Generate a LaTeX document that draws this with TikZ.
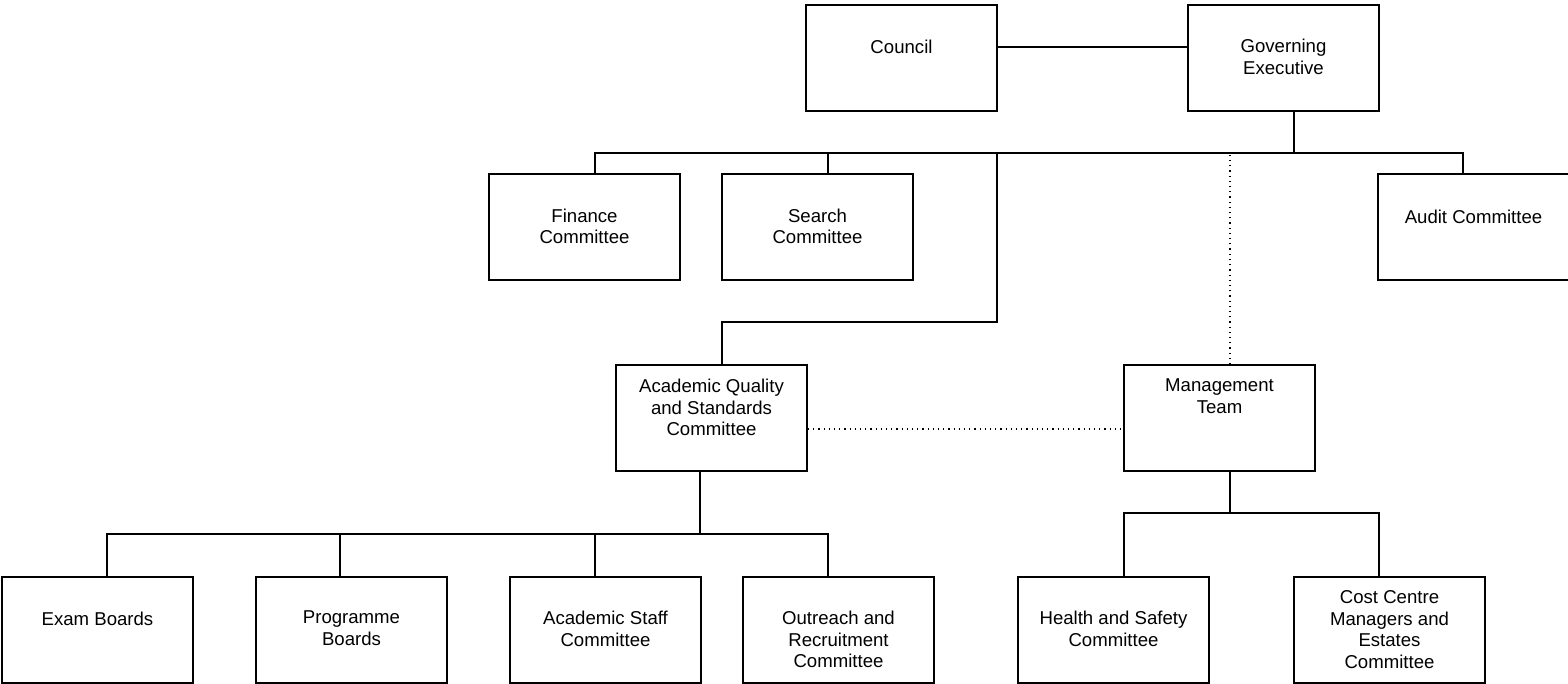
\documentclass[tikz,border=0pt]{standalone}
\usepackage{fontspec}
\setmainfont{Liberation Sans}
\usepackage{tikz}
\usetikzlibrary{calc,positioning}
\tikzset{
    unit/.style={draw,line width=0.9pt,inner sep=0pt,minimum width=95.5pt,minimum height=53pt},
    lbl/.style={inner sep=0pt,align=center,font=\fontsize{9.3}{10.85}\selectfont,
        execute at begin node=\strut},
    link/.style={line width=0.9pt},
    dotlink/.style={line width=0.6pt,dotted}
}

\begin{document}
\begin{tikzpicture}[x=0.5pt,y=-0.5pt]
                \useasboundingbox (0,0) rectangle (1568,684);
                \begin{scope}
                \clip (0,0) rectangle (1568,684);
                \node[unit] (council) at (901.5,58) {};
                \node[unit] (gov) at (1283.5,58) {};
                \node[unit] (fin) at (584.5,227) {};
                \node[unit] (search) at (817.5,227) {};
                \node[unit] (audit) at (1473.5,227) {};
                \node[unit] (aqsc) at (711.5,418) {};
                \node[unit] (mgmt) at (1219.5,418) {};
                \node[unit] (exam) at (97.5,630) {};
                \node[unit] (prog) at (351.5,630) {};
                \node[unit] (staff) at (605.5,630) {};
                \node[unit] (outreach) at (838.5,630) {};
                \node[unit] (hs) at (1113.5,630) {};
                \node[unit] (cost) at (1389.5,630) {};
                \end{scope}
                \node[lbl,below=17pt of council.north] (council-t) {Council};
                \node[lbl,below=17.5pt of gov.north] (gov-t) {Governing\\Executive};
                \node[lbl,below=17.6pt of fin.north] (fin-t) {Finance\\Committee};
                \node[lbl,below=17.6pt of search.north] (search-t) {Search\\Committee};
                \node[lbl,below=17.2pt of audit.north] (audit-t) {Audit Committee};
                \node[lbl,below=7.2pt of aqsc.north] (aqsc-t) {Academic Quality\\and Standards\\Committee};
                \node[lbl,below=7.2pt of mgmt.north] (mgmt-t) {Management\\Team};
                \node[lbl,below=16.8pt of exam.north] (exam-t) {Exam Boards};
                \node[lbl,below=17.2pt of prog.north] (prog-t) {Programme\\Boards};
                \node[lbl,below=17.2pt of staff.north] (staff-t) {Academic Staff\\Committee};
                \node[lbl,below=17.2pt of outreach.north] (outreach-t) {Outreach and\\Recruitment\\Committee};
                \node[lbl,below=17.2pt of hs.north] (hs-t) {Health and Safety\\Committee};
                \node[lbl,below=7pt of cost.north] (cost-t) {Cost Centre\\Managers and\\Estates\\Committee};
                \coordinate (jtop) at (1294,153);
                \coordinate (jac) at (997,153);
                \coordinate (bend) at (997,322);
                \coordinate (jlow) at (700,534);
                \coordinate (jmg) at (1230,513);
                \draw[link] ([yshift=5.5pt]council.east) -- ([yshift=5.5pt]gov.west);
                \draw[link] ([xshift=5.25pt]gov.south) -- (jtop);
                \draw[link] ([xshift=5.25pt]fin.north) |- (jtop) -| ([xshift=-5.25pt]audit.north);
                \draw[link] ([xshift=5.25pt]search.north) -- ([xshift=5.25pt]search.north |- jtop);
                \draw[link] (jac) -- (bend) -| ([xshift=5.25pt]aqsc.north);
                \draw[dotlink] ([xshift=5.25pt]mgmt.north) -- ([xshift=5.25pt,yshift=-1pt]mgmt.north |- jtop);
                \draw[dotlink] ([yshift=-5.5pt]aqsc.east) -- ([yshift=-5.5pt]mgmt.west);
                \draw[link] ([xshift=-5.75pt]aqsc.south) -- (jlow);
                \draw[link] ([xshift=4.75pt]exam.north) |- (jlow) -| ([xshift=-5.25pt]outreach.north);
                \draw[link] ([xshift=-5.75pt]prog.north) -- ([xshift=-5.75pt]prog.north |- jlow);
                \draw[link] ([xshift=-5.25pt]staff.north) -- ([xshift=-5.25pt]staff.north |- jlow);
                \draw[link] ([xshift=5.25pt]mgmt.south) -- (jmg);
                \draw[link] ([xshift=5.25pt]hs.north) |- (jmg) -| ([xshift=-5.25pt]cost.north);
            \end{tikzpicture}
\end{document}
